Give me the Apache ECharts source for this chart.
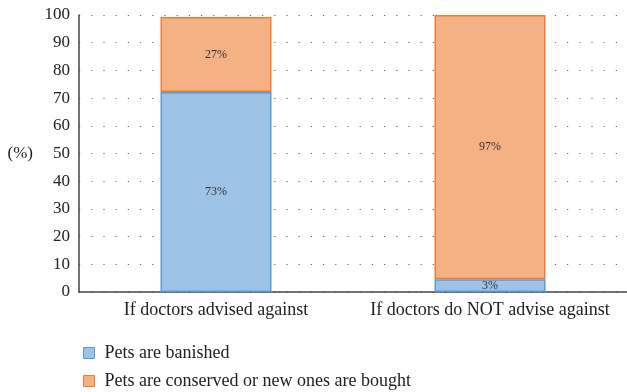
<!DOCTYPE html>
<html>
<head>
<meta charset="utf-8">
<script src="https://cdn.jsdelivr.net/npm/echarts@6/dist/echarts.min.js"></script>
<style>
  html, body { margin: 0; padding: 0; background: #fff; }
  #chart { width: 627px; height: 392px; }
</style>
</head>
<body>
<div id="chart"></div>
<script>
var categories = ['If doctors advised against', 'If doctors do NOT advise against'];
var seriesNames = ['Pets are banished', 'Pets are conserved or new ones are bought'];
var banished = [72.2, 4.6];
var conserved = [27.1, 95.4];
var banishedLabels = ['73%', '3%'];
var conservedLabels = ['27%', '97%'];
var yTicks = [0, 10, 20, 30, 40, 50, 60, 70, 80, 90, 100];

var serif = '"Liberation Serif", "DejaVu Serif", serif';
var blue = { color: '#9dc3e6', borderColor: '#5b9bd5', borderWidth: 1.5 };
var orange = { color: '#f4b183', borderColor: '#ed7d31', borderWidth: 1.5 };
var chart = echarts.init(document.getElementById('chart'));

function labelFrom(texts) {
    return {
        show: true,
        position: 'inside',
        fontFamily: serif,
        fontSize: 12,
        color: '#333',
        formatter: function (p) { return texts[p.dataIndex]; }
    };
}

function legendAt(top, name, style) {
    return {
        left: 78,
        top: top,
        itemWidth: 11,
        itemHeight: 11,
        icon: 'rect',
        selectedMode: false,
        textStyle: { fontFamily: serif, fontSize: 18, color: '#222', padding: [0, 0, 0, 5] },
        data: [{ name: name, itemStyle: { color: style.color, borderColor: style.borderColor, borderWidth: 1 } }]
    };
}

var option = {
    animation: false,
    grid: { left: 79, right: -3, top: 15, bottom: 100 },
    legend: [
        legendAt(339, seriesNames[0], blue),
        legendAt(367, seriesNames[1], orange)
    ],
    xAxis: {
        type: 'category',
        data: categories,
        axisLine: { lineStyle: { color: '#444', width: 1.5 } },
        axisTick: { show: false },
        axisLabel: { interval: 0, fontFamily: serif, fontSize: 18, color: '#222', margin: 9 }
    },
    yAxis: {
        type: 'value',
        min: yTicks[0],
        max: yTicks[yTicks.length - 1],
        interval: 10,
        name: '(%)',
        nameLocation: 'middle',
        nameRotate: 0,
        nameGap: 46,
        nameTextStyle: { fontFamily: serif, fontSize: 17, color: '#222' },
        axisLine: { show: true, lineStyle: { color: '#444', width: 1.5 } },
        axisTick: { show: false },
        axisLabel: { fontFamily: serif, fontSize: 17, color: '#222', margin: 9 },
        splitLine: { lineStyle: { color: '#666', type: [1.2, 11], width: 1.2 } }
    },
    series: [
        {
            name: seriesNames[0],
            type: 'bar',
            stack: 'all',
            barWidth: 111,
            data: banished,
            itemStyle: blue,
            label: labelFrom(banishedLabels)
        },
        {
            name: seriesNames[1],
            type: 'bar',
            stack: 'all',
            barWidth: 111,
            data: conserved,
            itemStyle: orange,
            label: labelFrom(conservedLabels)
        }
    ]
};

chart.setOption(option);
</script>
</body>
</html>
